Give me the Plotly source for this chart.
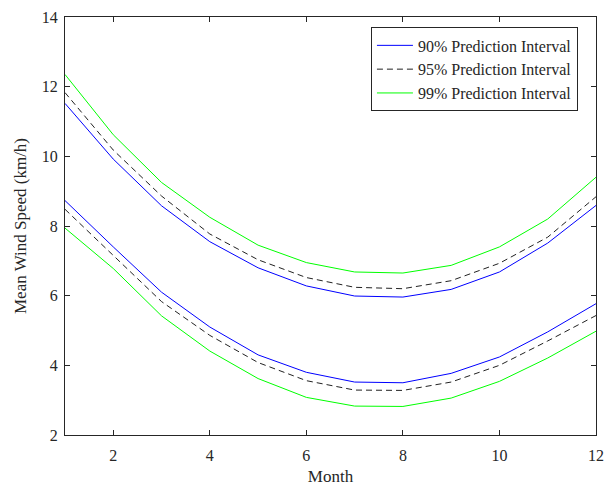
import plotly.graph_objects as go

months = [1, 2, 3, 4, 5, 6, 7, 8, 9, 10, 11, 12]

# 90% interval
upper90 = [11.52, 9.92, 8.58, 7.55, 6.80, 6.28, 5.99, 5.96, 6.18, 6.68, 7.51, 8.59]
lower90 = [8.73, 7.40, 6.10, 5.10, 4.30, 3.80, 3.52, 3.50, 3.77, 4.24, 4.96, 5.77]
# 95% interval
upper95 = [11.83, 10.18, 8.86, 7.77, 7.03, 6.52, 6.24, 6.20, 6.43, 6.93, 7.68, 8.84]
lower95 = [8.48, 7.16, 5.83, 4.86, 4.08, 3.56, 3.29, 3.28, 3.52, 4.00, 4.70, 5.43]
# 99% interval
upper99 = [12.35, 10.62, 9.25, 8.25, 7.45, 6.95, 6.68, 6.65, 6.87, 7.40, 8.20, 9.40]
lower99 = [7.94, 6.78, 5.42, 4.41, 3.62, 3.08, 2.83, 2.82, 3.06, 3.54, 4.21, 4.98]

series = [
    ("90% Prediction Interval", upper90, lower90, dict(color="#0000FF", width=1)),
    ("95% Prediction Interval", upper95, lower95, dict(color="#222222", width=1, dash="6px,4px")),
    ("99% Prediction Interval", upper99, lower99, dict(color="#00FF00", width=1)),
]

fig = go.Figure()
for name, up, lo, line in series:
    fig.add_trace(go.Scatter(x=months, y=up, mode="lines", name=name, line=line,
                             legendgroup=name, showlegend=True))
for name, up, lo, line in series:
    fig.add_trace(go.Scatter(x=months, y=lo, mode="lines", name=name, line=line,
                             legendgroup=name, showlegend=False))

axis_common = dict(
    showgrid=False, zeroline=False, showline=True, linecolor="#262626", linewidth=1,
    mirror="ticks", ticks="inside", ticklen=5, tickcolor="#262626",
    tickfont=dict(family="Liberation Serif", size=16, color="#262626"),
)

fig.update_layout(
    width=613, height=491,
    margin=dict(l=65, r=17, t=9, b=56),
    paper_bgcolor="white", plot_bgcolor="white",
    font=dict(family="Liberation Serif", color="#262626"),
    xaxis=dict(range=[1, 12], tickvals=[2, 4, 6, 8, 10, 12], ticklabelstandoff=6,
               title=dict(text="Month", font=dict(size=17), standoff=6), **axis_common),
    yaxis=dict(range=[2, 14], tickvals=[2, 4, 6, 8, 10, 12, 14], ticklabelstandoff=3,
               title=dict(text="Mean Wind Speed (km/h)", font=dict(size=17), standoff=10), **axis_common),
    legend=dict(x=0.966, y=0.975, xanchor="right", yanchor="top",
                bgcolor="white", bordercolor="#262626", borderwidth=1,
                font=dict(family="Liberation Serif", size=16, color="#262626"),
                tracegroupgap=0, itemwidth=36),
    showlegend=True,
)

fig.write_html("out.html")
